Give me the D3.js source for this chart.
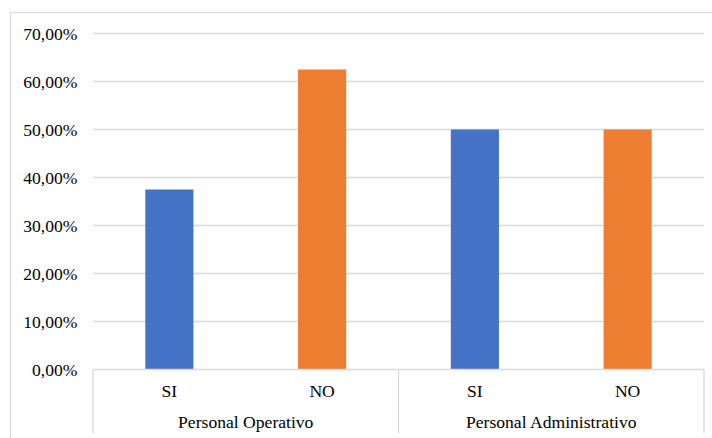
<!DOCTYPE html>
<html><head><meta charset="utf-8">
<script src="https://cdn.jsdelivr.net/npm/d3@7"></script>
<style>html,body{margin:0;padding:0;background:#fff;}svg{display:block;}</style>
</head><body>
<svg id="c" width="712" height="438"></svg>
<script>
const groups = ["Personal Operativo", "Personal Administrativo"];
const categories = ["SI", "NO"];
const values = [
  [0.375, 0.625],
  [0.50, 0.50]
];
const colors = ["#4472C4", "#ED7D31"];
const yTicks = [0, 0.1, 0.2, 0.3, 0.4, 0.5, 0.6, 0.7];

const svg = d3.select("#c");
const font = "'Liberation Serif','Times New Roman',serif";
const fs = 17.6;
const mLeft = 93, mRight = 704, mTop = 33.5, mBottom = 369.5;

svg.append("rect").attr("x", 10.5).attr("y", 12.5).attr("width", 720).attr("height", 440)
  .attr("fill", "#fff").attr("stroke", "#D9D9D9").attr("stroke-width", 1.3);

const y = d3.scaleLinear().domain([0, 0.7]).range([mBottom, mTop]);
const gx = d3.scaleBand().domain(groups).range([mLeft, mRight]);
const cx = d3.scaleBand().domain(categories).range([0, gx.bandwidth()]).paddingInner(0.685).paddingOuter(0.3425);

const fmt = v => d3.format(".2f")(v * 100).replace(".", ",") + "%";

// grid
svg.append("g").selectAll("line").data(yTicks.filter(t => t > 0)).join("line")
  .attr("x1", mLeft).attr("x2", mRight)
  .attr("y1", d => y(d)).attr("y2", d => y(d))
  .attr("stroke", "#D9D9D9").attr("stroke-width", 1.3);

// y labels
svg.append("g").selectAll("text").data(yTicks).join("text")
  .attr("x", 77.5).attr("y", d => y(d)).attr("dy", "0.35em")
  .attr("text-anchor", "end").attr("font-family", font).attr("font-size", fs)
  .attr("fill", "#000").text(fmt);

// bars
const flat = [];
groups.forEach((g, gi) => categories.forEach((c, ci) => flat.push({g, c, ci, v: values[gi][ci]})));
svg.append("g").selectAll("rect").data(flat).join("rect")
  .attr("x", d => gx(d.g) + cx(d.c)).attr("width", cx.bandwidth())
  .attr("y", d => y(d.v)).attr("height", d => y(0) - y(d.v))
  .attr("fill", d => colors[d.ci]);

// category axis
svg.append("line").attr("x1", mLeft).attr("x2", mRight).attr("y1", mBottom).attr("y2", mBottom)
  .attr("stroke", "#D9D9D9").attr("stroke-width", 1.3);
const seps = [mLeft].concat(groups.map(g => gx(g) + gx.bandwidth()));
svg.append("g").selectAll("line").data(seps).join("line")
  .attr("x1", d => d).attr("x2", d => d).attr("y1", mBottom).attr("y2", 433)
  .attr("stroke", "#D9D9D9").attr("stroke-width", 1.3);

svg.append("g").selectAll("text").data(flat).join("text")
  .attr("x", d => gx(d.g) + cx(d.c) + cx.bandwidth() / 2).attr("y", 391).attr("dy", "0.35em")
  .attr("text-anchor", "middle").attr("font-family", font).attr("font-size", fs)
  .text(d => d.c);

svg.append("g").selectAll("text").data(groups).join("text")
  .attr("x", d => gx(d) + gx.bandwidth() / 2).attr("y", 422).attr("dy", "0.35em")
  .attr("text-anchor", "middle").attr("font-family", font).attr("font-size", fs)
  .text(d => d);
</script>
</body></html>
